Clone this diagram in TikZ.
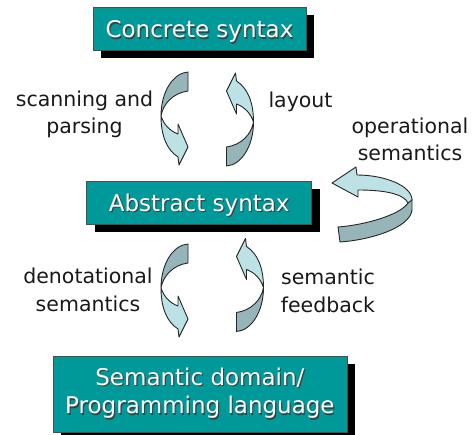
\documentclass[tikz,border=0pt]{standalone}
\usepackage{fontspec}
\setmainfont{DejaVu Sans}
\usetikzlibrary{shadows}

\definecolor{boxteal}{RGB}{0,153,153}
\definecolor{ribbonlight}{RGB}{188,226,229}
\definecolor{ribbondark}{RGB}{150,181,184}
\definecolor{inkgray}{RGB}{25,25,25}

% white lettering with a small dark offset shadow
\newcommand\embossed[1]{\leavevmode\rlap{\kern1.2pt\raisebox{-1.2pt}{\textcolor{black!75}{#1}}}\textcolor{white}{#1}}

\tikzset{
  stagebox/.style={draw=black!70, line width=0.8pt, fill=boxteal, inner sep=0pt,
    font=\fontsize{23}{28.5}\selectfont, align=center,
    general shadow={fill=black, shadow xshift=8pt, shadow yshift=-8pt}},
  oneline/.style={text height=18pt, text depth=0pt},
  steplabel/.style={text=inkgray, inner sep=0pt, align=center,
    font=\fontsize{20.5}{27}\selectfont},
  ribbonedge/.style={draw=black!85, line width=0.9pt, line join=round},
  % twisted ribbon arrow: tail at the origin, head at the bottom
  twistarrow/.pic={
    \filldraw[ribbonedge, fill=ribbondark]
      (0,0) .. controls (-15,1) and (-27,20) .. (-27,44)
            .. controls (-25,32) and (-15,21) .. (0,19) -- cycle;
    \filldraw[ribbonedge, fill=ribbonlight]
      (-27,44) .. controls (-27,64) and (-21,78) .. (-10,85)
      -- (-9,93) -- (0,75) -- (-10,52) -- (-10,62)
      .. controls (-18,59) and (-24,53) .. (-27,44) -- cycle;
  }
}

\begin{document}
\begin{tikzpicture}[x=1pt,y=-1pt]
  \useasboundingbox (0,0) rectangle (474,435);
  \fill[white] (0,0) rectangle (474,435);
  \clip (0,0) rectangle (474,435);

  % the three representations
  \node[stagebox, oneline, minimum width=213pt, minimum height=43pt]
    (concrete) at (199.5,29) {\embossed{Concrete syntax}};
  \node[stagebox, oneline, minimum width=225pt, minimum height=43pt]
    (abstract) at (199.2,202.7) {\embossed{Abstract syntax}};
  \node[stagebox, minimum width=294pt, minimum height=76pt]
    (domain) at (199.9,394) {\embossed{Semantic domain/}\\\embossed{Programming language}};

  % transformations between them
  \pic at (188,72) {twistarrow};
  \pic[rotate=180] at (226.5,166) {twistarrow};
  \pic at (188,244) {twistarrow};
  \pic[rotate=180] at (236.5,331.5) {twistarrow};

  % loop on the abstract syntax
  \filldraw[ribbonedge, fill=ribbondark]
    (412,199) -- (412,210) .. controls (410,228) and (370,240) .. (340,242)
    -- (338,227) .. controls (365,225) and (400,215) .. (408,203) -- cycle;
  \filldraw[ribbonedge, fill=ribbonlight]
    (332,183) -- (356,167) -- (357,175)
    .. controls (385,175) and (412,186) .. (412,200) -- (408,203)
    .. controls (404,194) and (385,190) .. (358,190) -- (358,197) -- cycle;

  % labels (base anchor sits on the last line)
  \node[steplabel, anchor=base] (scan) at (84.5,133.5) {scanning and\\parsing};
  \node[steplabel, anchor=base] (layout) at (300.5,108) {layout};
  \node[steplabel, anchor=base] (opsem) at (410,161) {operational\\semantics};
  \node[steplabel, anchor=base, font=\fontsize{20.5}{28.4}\selectfont]
    (densem) at (88,311.5) {denotational\\semantics};
  \node[steplabel, anchor=base, font=\fontsize{20.5}{28}\selectfont]
    (feedback) at (328,313) {semantic\\feedback};
\end{tikzpicture}
\end{document}
